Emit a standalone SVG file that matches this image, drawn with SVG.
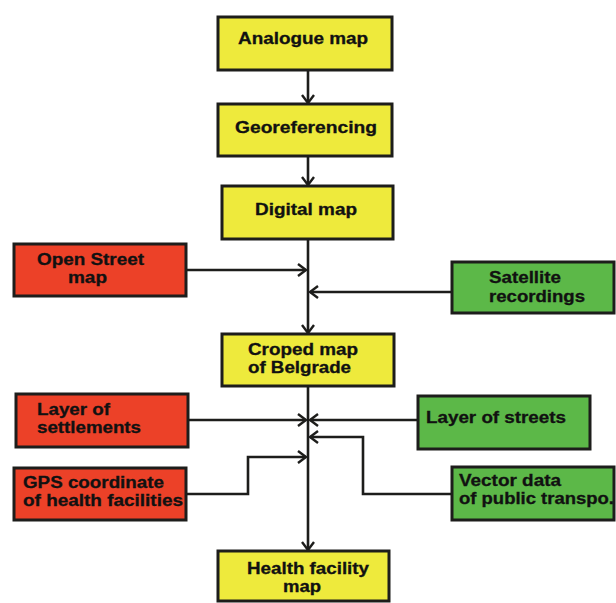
<svg xmlns="http://www.w3.org/2000/svg" width="616" height="603" viewBox="0 0 616 603">
<style>
.box{stroke:#1d1d1b;stroke-width:3}
.y{fill:#eeea3c}
.r{fill:#ec4128}
.g{fill:#5cb848}
text{font-family:"Liberation Sans",Arial,sans-serif;font-weight:bold;font-size:16px;fill:#111;stroke:#111;stroke-width:0.3}
.c{fill:none;stroke:#1d1d1b;stroke-width:2.6}
</style>
<defs>
<marker id="ah" markerWidth="12" markerHeight="14" refX="9" refY="7" orient="auto" markerUnits="userSpaceOnUse">
<path d="M1,1 L9,7 L1,13" fill="none" stroke="#1d1d1b" stroke-width="2.4"/>
</marker>
</defs>
<rect width="616" height="603" fill="#ffffff"/>
<g id="connectors">
<line class="c" x1="308" y1="70" x2="308" y2="103" marker-end="url(#ah)"/>
<line class="c" x1="308" y1="156" x2="308" y2="185" marker-end="url(#ah)"/>
<line class="c" x1="308" y1="239" x2="308" y2="333" marker-end="url(#ah)"/>
<line class="c" x1="186" y1="270" x2="306" y2="270" marker-end="url(#ah)"/>
<line class="c" x1="452" y1="292" x2="310" y2="292" marker-end="url(#ah)"/>
<line class="c" x1="308" y1="386" x2="308" y2="550" marker-end="url(#ah)"/>
<line class="c" x1="188" y1="420" x2="306" y2="420" marker-end="url(#ah)"/>
<line class="c" x1="418" y1="420" x2="310" y2="420" marker-end="url(#ah)"/>
<polyline class="c" points="452,494 363,494 363,437 310,437" marker-end="url(#ah)"/>
<polyline class="c" points="186,494 248,494 248,457 306,457" marker-end="url(#ah)"/>
</g>
<g id="analogue">
<rect class="box y" x="218" y="17" width="174" height="53"/>
<text x="238" y="44" textLength="130" lengthAdjust="spacingAndGlyphs">Analogue map</text>
</g>
<g id="georef">
<rect class="box y" x="218" y="104" width="174" height="52"/>
<text x="235" y="133" textLength="142" lengthAdjust="spacingAndGlyphs">Georeferencing</text>
</g>
<g id="digital">
<rect class="box y" x="222" y="186" width="171" height="53"/>
<text x="255" y="215" textLength="102" lengthAdjust="spacingAndGlyphs">Digital map</text>
</g>
<g id="openstreet">
<rect class="box r" x="14" y="244" width="172" height="52"/>
<text x="37" y="265" textLength="107" lengthAdjust="spacingAndGlyphs">Open Street</text>
<text x="68" y="283" textLength="39" lengthAdjust="spacingAndGlyphs">map</text>
</g>
<g id="satellite">
<rect class="box g" x="452" y="262" width="162" height="51"/>
<text x="489" y="283" textLength="72" lengthAdjust="spacingAndGlyphs">Satellite</text>
<text x="489" y="302" textLength="96" lengthAdjust="spacingAndGlyphs">recordings</text>
</g>
<g id="croped">
<rect class="box y" x="222" y="334" width="172" height="52"/>
<text x="248" y="355" textLength="110" lengthAdjust="spacingAndGlyphs">Croped map</text>
<text x="248" y="373" textLength="103" lengthAdjust="spacingAndGlyphs">of Belgrade</text>
</g>
<g id="settlements">
<rect class="box r" x="16" y="394" width="172" height="53"/>
<text x="37" y="415" textLength="73" lengthAdjust="spacingAndGlyphs">Layer of</text>
<text x="37" y="433" textLength="104" lengthAdjust="spacingAndGlyphs">settlements</text>
</g>
<g id="streets">
<rect class="box g" x="418" y="396" width="172" height="53"/>
<text x="426" y="423" textLength="140" lengthAdjust="spacingAndGlyphs">Layer of streets</text>
</g>
<g id="gps">
<rect class="box r" x="14" y="468" width="172" height="52"/>
<text x="23" y="488" textLength="141" lengthAdjust="spacingAndGlyphs">GPS coordinate</text>
<text x="23" y="506" textLength="160" lengthAdjust="spacingAndGlyphs">of health facilities</text>
</g>
<g id="vector">
<rect class="box g" x="452" y="467" width="162" height="53"/>
<text x="459" y="486" textLength="102" lengthAdjust="spacingAndGlyphs">Vector data</text>
<text x="459" y="504" textLength="155" lengthAdjust="spacingAndGlyphs">of public transpo.</text>
</g>
<g id="health">
<rect class="box y" x="218" y="551" width="171" height="50"/>
<text x="247" y="574" textLength="122" lengthAdjust="spacingAndGlyphs">Health facility</text>
<text x="283" y="592" textLength="38" lengthAdjust="spacingAndGlyphs">map</text>
</g>
</svg>
